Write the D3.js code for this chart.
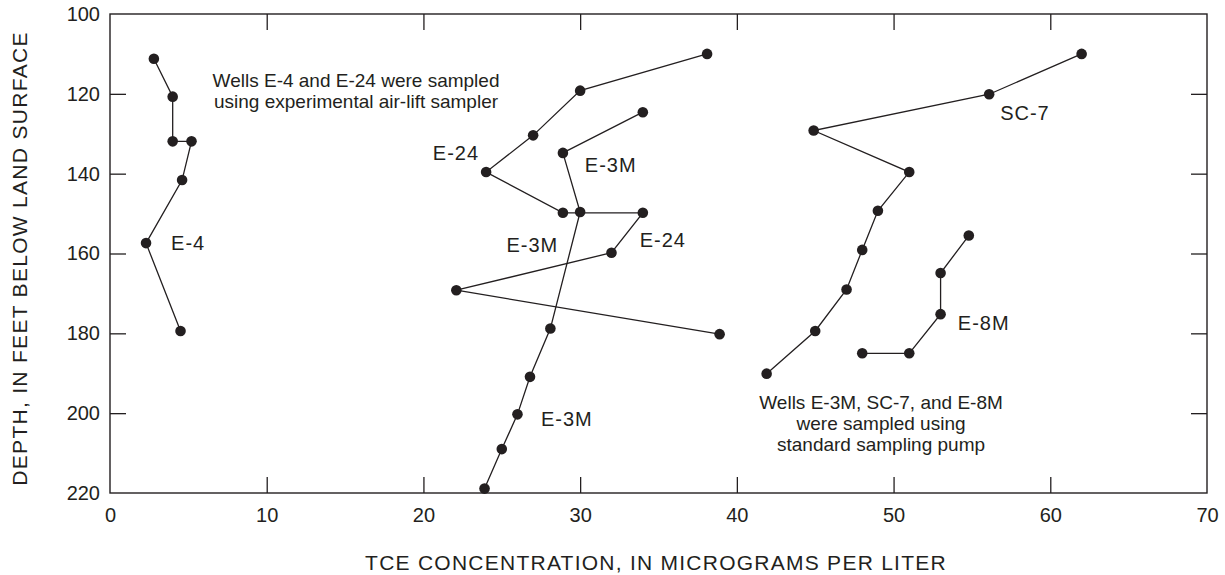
<!DOCTYPE html>
<html>
<head>
<meta charset="utf-8">
<script src="https://cdn.jsdelivr.net/npm/d3@7"></script>
<style>
  html, body { margin: 0; padding: 0; background: #fff; }
  svg { display: block; font-family: "Liberation Sans", Arial, Helvetica, sans-serif; }
</style>
</head>
<body>
<svg id="chart" width="1225" height="575"></svg>
<script>
// ---- Data ----
const xTicks = [0, 10, 20, 30, 40, 50, 60, 70];
const yTicks = [100, 120, 140, 160, 180, 200, 220];

const e4Conc  = [2.8, 4.0, 4.0, 5.2, 4.6, 2.3, 4.5];
const e4Depth = [111.2, 120.7, 131.9, 131.9, 141.6, 157.4, 179.4];

const e24Conc  = [38.1, 30.0, 27.0, 24.0, 28.9, 34.0, 32.0, 22.1, 38.9];
const e24Depth = [110.0, 119.2, 130.4, 139.6, 149.8, 149.8, 159.8, 169.2, 180.2];

const e3mConc  = [34.0, 28.9, 30.0, 28.1, 26.8, 26.0, 25.0, 23.9];
const e3mDepth = [124.6, 134.8, 149.6, 178.8, 190.9, 200.3, 209.0, 218.9];

const sc7Conc  = [62.0, 56.1, 44.9, 51.0, 49.0, 48.0, 47.0, 45.0, 41.9];
const sc7Depth = [110.0, 120.1, 129.2, 139.6, 149.3, 159.1, 169.0, 179.4, 190.1];

const e8mConc  = [54.8, 53.0, 53.0, 51.0, 48.0];
const e8mDepth = [155.5, 164.9, 175.2, 185.0, 185.0];

// labels: [text, concentration, depth] anchor points (left/baseline)
const wellLabels = [
  ["E-4", 3.9, 159.0],
  ["E-24", 20.6, 136.7],
  ["E-3M", 30.3, 139.7],
  ["E-3M", 25.3, 159.5],
  ["E-24", 33.8, 158.3],
  ["E-3M", 27.5, 203.2],
  ["SC-7", 56.8, 126.6],
  ["E-8M", 54.1, 179.2]
];
const noteTop = ["Wells E-4 and E-24 were sampled", "using experimental air-lift sampler"];
const noteBottom = ["Wells E-3M, SC-7, and E-8M", "were sampled using", "standard sampling pump"];

const xTitle = "TCE CONCENTRATION, IN MICROGRAMS PER LITER";
const yTitle = "DEPTH, IN FEET BELOW LAND SURFACE";

// ---- Layout ----
const INK = "#231f20";
const L = 110, R = 1207, T = 14, B = 493;

const svg = d3.select("#chart");
const x = d3.scaleLinear().domain([0, 70]).range([L, R]);
const y = d3.scaleLinear().domain([100, 220]).range([T, B]);

// frame
svg.append("rect")
  .attr("x", L).attr("y", T).attr("width", R - L).attr("height", B - T)
  .attr("fill", "none").attr("stroke", INK).attr("stroke-width", 1.4);

function styleAxis(g) {
  g.select(".domain").remove();
  g.selectAll(".tick line").attr("stroke", INK).attr("stroke-width", 1.3);
  g.selectAll(".tick text").attr("fill", INK).style("font-size", "20px")
    .style("font-family", '"Liberation Sans", Arial, Helvetica, sans-serif');
}

svg.append("g").attr("transform", `translate(0,${B})`)
  .call(d3.axisBottom(x).tickValues(xTicks).tickSize(-16).tickPadding(15).tickFormat(d3.format("d")))
  .call(styleAxis);
svg.append("g").attr("transform", `translate(0,${T})`)
  .call(d3.axisTop(x).tickValues(xTicks.slice(1, -1)).tickSize(-16).tickFormat(""))
  .call(styleAxis);
svg.append("g").attr("transform", `translate(${L},0)`)
  .call(d3.axisLeft(y).tickValues(yTicks).tickSize(-16).tickPadding(10).tickFormat(d3.format("d")))
  .call(styleAxis);
svg.append("g").attr("transform", `translate(${R},0)`)
  .call(d3.axisRight(y).tickValues(yTicks.slice(1, -1)).tickSize(-16).tickFormat(""))
  .call(styleAxis);

// hide inner tick lines at frame corners on left/bottom
svg.selectAll(".tick").filter(d => d === 0 || d === 70 || d === 100 || d === 220)
  .select("line").remove();

// series
const series = [
  [e4Conc, e4Depth],
  [e24Conc, e24Depth],
  [e3mConc, e3mDepth],
  [sc7Conc, sc7Depth],
  [e8mConc, e8mDepth]
];
const line = d3.line().x(d => x(d[0])).y(d => y(d[1]));
series.forEach(([cs, ds]) => {
  const pts = cs.map((c, i) => [c, ds[i]]);
  svg.append("path").datum(pts).attr("d", line)
    .attr("fill", "none").attr("stroke", INK).attr("stroke-width", 1.3);
  svg.append("g").selectAll("circle").data(pts).join("circle")
    .attr("cx", d => x(d[0])).attr("cy", d => y(d[1])).attr("r", 5.3)
    .attr("fill", INK);
});

// well labels
svg.append("g").selectAll("text").data(wellLabels).join("text")
  .attr("x", d => x(d[1])).attr("y", d => y(d[2]))
  .attr("fill", INK).style("font-size", "20px").style("letter-spacing", "1px")
  .text(d => d[0]);

// notes
const n1 = svg.append("text").attr("fill", INK).style("font-size", "19px")
  .attr("text-anchor", "middle");
noteTop.forEach((t, i) => n1.append("tspan").attr("x", x(15.7)).attr("y", y(118.3) + i * 20.5).text(t));
const n2 = svg.append("text").attr("fill", INK).style("font-size", "19px")
  .attr("text-anchor", "middle");
noteBottom.forEach((t, i) => n2.append("tspan").attr("x", x(49.2)).attr("y", y(199.0) + i * 21).text(t));

// axis titles
svg.append("text").attr("x", 656).attr("y", 569.5)
  .attr("text-anchor", "middle").attr("fill", INK)
  .style("font-size", "21px").style("letter-spacing", "1.25px")
  .text(xTitle);
svg.append("text").attr("transform", `translate(27,${(T + B) / 2 + 5}) rotate(-90)`)
  .attr("text-anchor", "middle").attr("fill", INK)
  .style("font-size", "21px").style("letter-spacing", "1.3px")
  .text(yTitle);
</script>
</body>
</html>
